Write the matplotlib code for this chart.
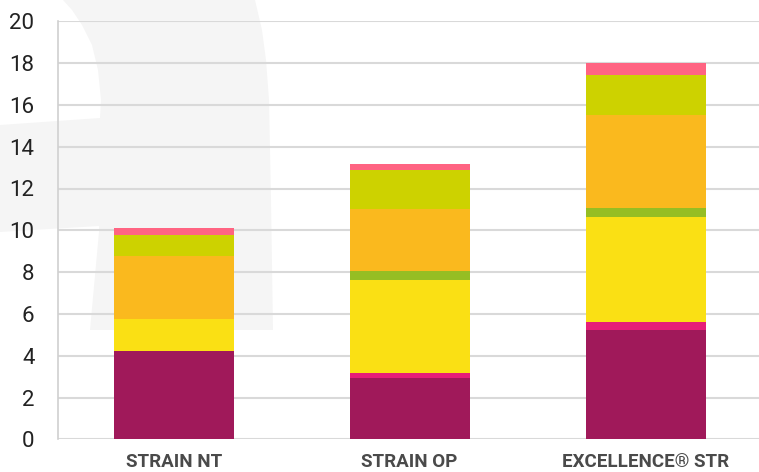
import numpy as np
import matplotlib.pyplot as plt
from matplotlib.patches import Polygon
from matplotlib.transforms import blended_transform_factory

# categories and stacked segments (bottom to top)
categories = ["STRAIN NT", "STRAIN OP", "EXCELLENCE® STR"]
purple = [4.22, 2.93, 5.23]
magenta = [0.0, 0.24, 0.38]
yellow = [1.54, 4.45, 5.03]
green = [0.0, 0.43, 0.43]
orange = [3.01, 2.95, 4.45]
lime = [1.0, 1.89, 1.91]
pink = [0.34, 0.28, 0.57]

series = [purple, magenta, yellow, green, orange, lime, pink]
colors = ["#A0195A", "#E61E78", "#FAE014", "#96BE23", "#FAB91E", "#CDD200", "#FF6482"]

W, H = 759, 472
fig = plt.figure(figsize=(W / 100, H / 100), dpi=100)
fig.patch.set_facecolor("white")

# faint watermark shape behind the plot (pixel coords, y from top)
shape = [(63, 0), (255, 0), (262, 30), (266, 60), (269, 100), (271, 200), (273, 330),
         (90, 330), (99, 232), (99, 226), (0, 232), (0, 125), (100, 118), (101, 100),
         (98, 70), (92, 45), (82, 25), (72, 10)]
shape = [(x / W, 1 - y / H) for x, y in shape]
fig.add_artist(Polygon(shape, closed=True, transform=fig.transFigure,
                       facecolor="#F5F5F5", edgecolor="none", zorder=-5))

ax = fig.add_axes([58 / W, (H - 439.3) / H, (W - 58) / W, (439.3 - 21.3) / H])
ax.set_facecolor("none")

x = np.arange(len(categories))
bottom = np.zeros(len(categories))
for vals, c in zip(series, colors):
    ax.bar(x, vals, width=0.508, bottom=bottom, color=c, zorder=3)
    bottom += np.array(vals)

ax.set_xlim(-0.49, 2.48)
ax.set_ylim(0, 20)
ax.set_yticks(np.arange(0, 21, 2))
ax.yaxis.grid(True, color="#D9D9D9", linewidth=1.5, zorder=0)
ax.set_axisbelow(True)
for s in ["top", "right", "bottom"]:
    ax.spines[s].set_visible(False)
ax.spines["left"].set_color("#D0D0D0")
ax.spines["left"].set_linewidth(1.2)
ax.tick_params(length=0)

fam = ["Roboto", "DejaVu Sans"]
ax.set_xticks([])
trans = blended_transform_factory(ax.transData, ax.transAxes)
for xi, name in zip(x, categories):
    ax.text(xi, -(467 - 439.3) / 418, name, transform=trans, ha="center", va="baseline",
            family=fam, fontsize=13.5, fontweight="bold", color="#4A4A4A")

for lab in ax.get_yticklabels():
    lab.set_family(fam)
    lab.set_fontsize(16)
    lab.set_color("#222222")
ax.tick_params(axis="y", pad=17)

fig.savefig("out.png", dpi=100, facecolor="white")
